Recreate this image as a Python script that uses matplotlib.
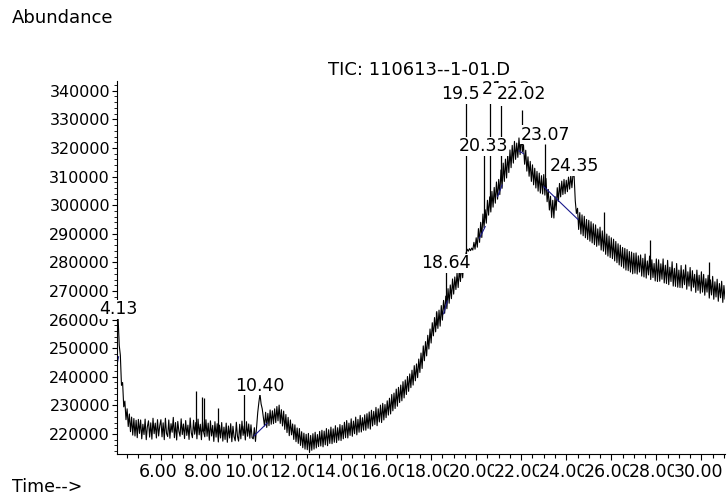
import numpy as np
import matplotlib
matplotlib.use("Agg")
import matplotlib.pyplot as plt
from matplotlib.ticker import MultipleLocator
from matplotlib.transforms import ScaledTranslation

# ---------------------------------
# DATA
# ---------------------------------
# scan grid, one reading every 0.05 min from 4.10 to 31.05
rt = np.round(np.arange(4.1, 31.075, 0.05), 2)

# abundance in thousands of counts, one row per minute (20 scans)
abundance_k = [
    260.5, 251.0, 247.5, 237.0, 238.0, 229.5, 231.5, 225.0, 228.8, 222.6, 227.0, 220.8, 225.9, 219.6, 225.4, 219.3, 224.8, 218.7, 225.1, 220.2,  # 4.10
    224.9, 218.3, 223.4, 219.8, 225.2, 218.0, 222.6, 224.6, 218.9, 223.9, 218.2, 225.5, 220.1, 223.8, 218.6, 225.0, 219.3, 222.9, 225.0, 219.0,  # 5.10
    223.9, 218.0, 225.5, 220.2, 219.1, 224.9, 218.5, 223.6, 220.6, 225.8, 218.7, 224.0, 217.9, 224.4, 220.9, 219.2, 225.3, 219.8, 223.5, 218.4,  # 6.10
    224.7, 219.5, 223.1, 218.1, 225.6, 220.4, 218.7, 224.8, 219.9, 224.0, 218.3, 225.2, 219.7, 223.4, 218.0, 224.3, 220.6, 219.0, 225.0, 219.2,  # 7.10
    223.8, 217.8, 224.6, 219.3, 223.0, 217.4, 224.3, 218.9, 223.6, 217.2, 223.1, 218.6, 224.0, 217.5, 222.4, 218.1, 223.8, 217.1, 222.8, 218.6,  # 8.10
    223.6, 217.3, 222.7, 219.0, 217.6, 224.1, 219.2, 217.5, 223.4, 218.3, 224.5, 219.5, 222.8, 217.9, 224.3, 219.2, 223.5, 218.5, 223.2, 218.7,  # 9.10
    218.3, 222.2, 217.4, 222.6, 227.5, 231.0, 234.0, 230.5, 228.8, 225.9, 222.8, 227.6, 222.3, 227.2, 222.9, 228.4, 223.4, 228.1, 223.6, 228.8,  # 10.10
    224.0, 229.6, 224.6, 230.1, 223.7, 228.5, 222.8, 228.0, 221.6, 226.8, 220.5, 225.8, 219.4, 224.9, 219.7, 223.5, 218.1, 223.2, 217.3, 222.1,  # 11.10
    216.7, 221.9, 216.0, 220.8, 215.2, 220.3, 214.7, 219.9, 214.5, 220.2, 213.5, 219.5, 214.3, 220.1, 214.7, 220.6, 215.1, 219.8, 215.6, 220.9,  # 12.10
    215.8, 221.3, 215.5, 221.0, 216.2, 221.9, 215.9, 221.5, 216.7, 222.4, 216.6, 221.8, 217.1, 222.9, 217.0, 222.2, 217.8, 223.3, 217.7, 223.0,  # 13.10
    218.3, 224.1, 218.7, 224.7, 218.6, 223.8, 219.5, 225.3, 219.2, 224.5, 220.1, 225.9, 219.7, 225.1, 220.6, 226.5, 220.7, 225.7, 221.3, 226.7,  # 14.10
    221.3, 227.1, 222.0, 227.7, 221.7, 228.3, 222.8, 227.9, 223.3, 229.3, 222.9, 228.8, 224.2, 230.1, 224.0, 230.7, 224.9, 230.3, 225.7, 231.6,  # 15.10
    226.6, 232.5, 227.0, 233.8, 228.1, 234.3, 228.9, 235.7, 229.7, 236.3, 231.0, 237.1, 231.6, 238.3, 232.6, 238.9, 233.8, 240.1, 234.9, 241.0,  # 16.10
    236.2, 242.3, 237.1, 243.9, 238.6, 244.5, 239.7, 246.2, 241.5, 248.3, 242.9, 250.8, 245.6, 252.3, 247.3, 254.5, 249.7, 256.7, 251.8, 258.9,  # 17.10
    254.3, 260.7, 255.7, 262.8, 256.9, 263.3, 257.7, 264.9, 259.8, 266.7, 262.2, 268.2, 263.8, 270.8, 265.7, 272.1, 267.3, 274.2, 268.9, 274.9,  # 18.10
    270.5, 276.3, 271.2, 277.6, 273.3, 279.1, 274.6, 280.6, 280.0, 283.2, 284.6, 283.9, 284.8, 284.1, 285.0, 284.3, 287.0, 284.6, 288.6, 285.3,  # 19.10
    291.8, 287.0, 294.0, 288.7, 296.9, 292.1, 298.4, 293.7, 301.7, 296.5, 302.9, 297.6, 304.8, 299.3, 306.2, 300.7, 308.1, 302.1, 309.0, 303.7,  # 20.10
    312.3, 305.9, 314.7, 308.3, 316.1, 309.5, 317.8, 311.4, 319.3, 313.1, 320.9, 314.7, 322.3, 316.0, 321.7, 316.7, 323.5, 317.7, 324.3, 318.7,  # 21.10
    321.1, 314.3, 319.2, 311.9, 316.9, 310.1, 315.3, 308.3, 314.1, 307.1, 312.9, 306.0, 311.8, 304.9, 311.2, 304.2, 310.3, 303.9, 310.7, 303.5,  # 22.10
    309.3, 301.2, 305.5, 298.3, 303.1, 295.7, 301.7, 295.5, 303.0, 298.2, 306.1, 301.3, 307.6, 302.9, 308.4, 303.7, 309.0, 304.0, 308.7, 304.7,  # 23.10
    309.8, 305.6, 310.4, 306.1, 310.9, 310.0, 301.5, 297.1, 298.9, 291.5, 297.4, 289.9, 296.6, 289.3, 296.1, 288.6, 295.0, 288.0, 294.7, 287.4,  # 24.10
    294.2, 286.8, 293.5, 286.2, 293.1, 285.6, 291.7, 286.0, 292.3, 284.3, 291.0, 283.9, 290.7, 282.8, 289.9, 282.2, 289.2, 281.7, 288.6, 281.3,  # 25.10
    288.1, 280.5, 287.3, 279.9, 286.5, 279.1, 286.0, 278.6, 285.2, 278.0, 284.9, 277.3, 284.5, 277.1, 283.8, 276.6, 283.6, 276.0, 283.2, 276.2,  # 26.10
    283.3, 275.9, 282.3, 276.6, 282.6, 275.2, 281.4, 274.9, 282.9, 274.5, 280.5, 275.6, 282.2, 274.0, 280.9, 274.7, 279.6, 273.5, 281.2, 273.3,  # 27.10
    280.9, 273.4, 279.5, 274.1, 281.2, 272.8, 279.0, 272.6, 280.7, 272.2, 278.3, 273.3, 280.2, 271.7, 277.9, 271.6, 279.6, 271.3, 277.3, 271.2,  # 28.10
    278.9, 271.1, 277.4, 272.2, 279.1, 270.6, 276.7, 271.7, 278.2, 270.0, 277.1, 271.3, 275.8, 269.5, 277.3, 270.2, 275.5, 269.2, 276.7, 269.6,  # 29.10
    275.8, 268.5, 274.3, 269.6, 275.5, 267.5, 273.9, 268.6, 275.1, 267.1, 273.2, 267.9, 274.1, 266.4, 272.6, 267.6, 273.4, 266.0, 271.9, 267.2,  # 30.10
]
abundance = np.array(abundance_k) * 1000

# narrow spikes: retention time, foot and tip
spike_rt = [7.57, 7.83, 7.92, 8.55, 9.70, 18.22, 18.64, 19.53, 20.33, 20.63,
            21.12, 22.02, 23.07, 25.67, 27.70, 30.33]
spike_foot = [221000, 221000, 221000, 220500, 220500, 258000, 266500, 281000, 295500, 299500,
              309000, 321000, 306500, 288000, 278500, 271500]
spike_tip = [235000, 233000, 232500, 229000, 234000, 262800, 276500, 335700, 317500, 335700,
             335700, 333300, 321400, 297700, 287800, 280200]

# integrated peaks, in the order the software paints their labels
peak_rt = [4.13, 10.40, 18.64, 20.63, 19.53, 20.33, 21.12, 22.02, 23.07, 24.35]
peak_label = ["4.13", "10.40", "18.64", "20.63", "19.53", "20.33", "21.12", "22.02", "23.07", "24.35"]
peak_top = [260500, 233800, 276500, 335700, 335700, 317500, 335700, 333300, 321400, 310500]

# integration baselines (start rt, start value, end rt, end value)
base_rt0 = [4.06, 10.13, 18.55, 19.40, 20.15, 20.95, 21.90, 23.00]
base_v0 = [244500, 219300, 262000, 276500, 288500, 303000, 319000, 306500]
base_rt1 = [4.12, 10.72, 18.72, 19.50, 20.40, 21.15, 22.10, 24.52]
base_v1 = [247000, 223800, 266500, 279000, 292500, 307000, 318000, 295000]

x_ticks = [6, 8, 10, 12, 14, 16, 18, 20, 22, 24, 26, 28, 30]
y_ticks = [220000, 230000, 240000, 250000, 260000, 270000, 280000,
           290000, 300000, 310000, 320000, 330000, 340000]

# ---------------------------------
# PLOT
# ---------------------------------
plt.rcParams['font.family'] = ['DejaVu Sans']

fig = plt.figure(figsize=(7.27, 5.01), dpi=100)
ax = fig.add_axes([0.1609, 0.0938, 0.8364, 0.7445])

ax.plot(rt, abundance, color="black", linewidth=0.8, zorder=2)
ax.vlines(spike_rt, spike_foot, spike_tip, color="black", linewidth=0.9, zorder=2)
for a, b, c, d in zip(base_rt0, base_v0, base_rt1, base_v1):
    ax.plot([a, c], [b, d], color="#1a1a8c", linewidth=0.8, zorder=2.2)

# labels sit on the peak tops; crowded ones get pushed aside (points)
label_shift = {"21.12": (3.5, 3.4), "22.02": (0, 4.9)}
pad_pt = {"22.02": 1.8}
for t, lab, top in zip(peak_rt, peak_label, peak_top):
    ax.annotate(lab, xy=(t, top), xytext=label_shift.get(lab, (0, 0)),
                textcoords="offset points", ha="center", va="bottom",
                fontsize=12.5, color="black", annotation_clip=False, zorder=4,
                bbox=dict(facecolor="white", edgecolor="none", pad=pad_pt.get(lab, 0.4)))

ax.set_xlim(4.05, 31.05)
ax.set_ylim(213000, 343400)

ax.set_xticks(x_ticks)
ax.set_xticklabels([f"{v:.2f}" for v in x_ticks])
ax.xaxis.set_minor_locator(MultipleLocator(0.5))
ax.set_yticks(y_ticks)
ax.set_yticklabels([str(v) for v in y_ticks])
ax.yaxis.set_minor_locator(MultipleLocator(2000))

ax.tick_params(axis="x", which="major", direction="out", length=4.5, width=0.8,
               labelsize=12.5, pad=2)
ax.tick_params(axis="x", which="minor", direction="out", length=3, width=0.8)
ax.tick_params(axis="y", which="major", direction="out", length=3.5, width=0.8,
               labelsize=11.5, pad=1.5)
ax.tick_params(axis="y", which="minor", direction="out", length=2, width=0.6)

# overlapping time labels: each one paints over the tail of the previous one
shift = ScaledTranslation(-2.5 / 100, 0, fig.dpi_scale_trans)
for lbl in ax.get_xticklabels():
    lbl.set_bbox(dict(facecolor="white", edgecolor="none", pad=0.3))
    lbl.set_transform(lbl.get_transform() + shift)

for side in ["top", "right"]:
    ax.spines[side].set_visible(False)
for side in ["left", "bottom"]:
    ax.spines[side].set_linewidth(0.8)

fig.text(0.5765, 0.860, "TIC: 110613--1-01.D", ha="center", va="center", fontsize=13)
fig.text(0.017, 0.964, "Abundance", ha="left", va="center", fontsize=13)
fig.text(0.017, 0.028, "Time-->", ha="left", va="center", fontsize=12.5)

fig.savefig("out.png", dpi=100)
